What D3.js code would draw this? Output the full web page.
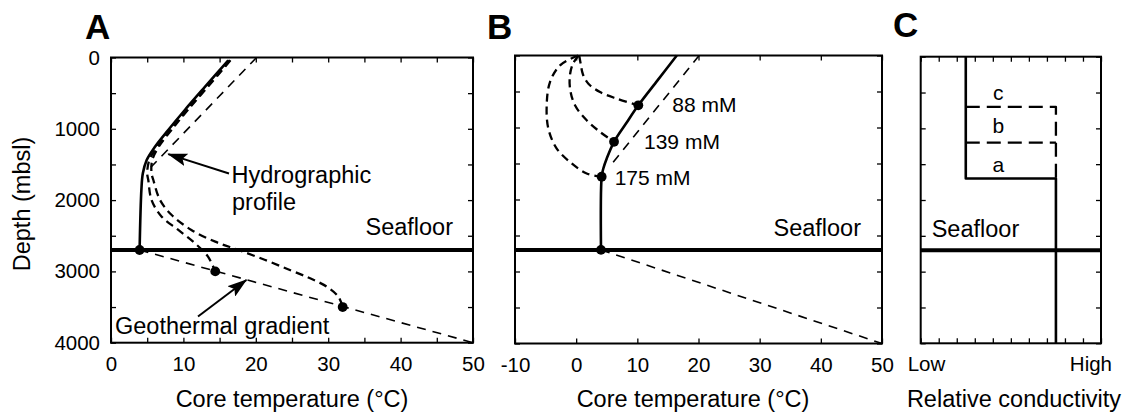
<!DOCTYPE html>
<html><head><meta charset="utf-8">
<script src="https://cdn.jsdelivr.net/npm/d3@7/dist/d3.min.js"></script>
<style>
body{margin:0;background:#fff}
svg text{font-family:"Liberation Sans",Arial,Helvetica,sans-serif;fill:#000}
</style>
</head><body>
<svg id="chart" width="1123" height="416"></svg>
<script>
// ---------------- DATA ----------------
const depthTickValues = [0,500,1000,1500,2000,2500,3000,3500,4000];
const depthLabelValues = [0,1000,2000,3000,4000];
const tempTickValuesA = [0,5,10,15,20,25,30,35,40,45,50];
const tempLabelValuesA = [0,10,20,30,40,50];
const tempTickValuesB = [-10,0,10,20,30,40,50];
const condTickValues = [0,0.1,0.2,0.3,0.4,0.5,0.6,0.7,0.8,0.9,1];
const condLabels = ["Low","High"];
const seafloorDepth = 2700;

// Panel A: [temperature °C, depth mbsl]
const solidA = [[16.2,40],[13.0,409],[10.2,736],[7.9,1017],[6.08,1251],[4.93,1437],[4.4,1625],[4.2,1850],[3.95,2700]];
const dashedA1 = [[16.4,40],[13.3,409],[10.5,736],[8.2,1017],[6.4,1251],[5.3,1437],[5.0,1625],[5.15,1718],[5.6,1999],[7.0,2232],[9.3,2419],[11.6,2606],[13.4,2793],[14.4,3000]];
const dashedA2 = [[16.5,40],[13.4,409],[10.6,736],[8.35,1017],[6.6,1251],[5.7,1437],[5.6,1625],[5.85,1718],[6.77,1999],[8.38,2209],[11.1,2419],[14.4,2583],[17.6,2700],[21.3,2840],[24.7,2980],[27.5,3097],[29.8,3214],[31.4,3354],[32.0,3500]];
const hydroLine = [[20.1,0],[5.5,1540]];
const geoLineA = [[3.95,2700],[50,4000]];
const dotsA = [[3.95,2700],[14.4,3000],[32.0,3500]];

// Panel B
const solidB = [[16.45,0],[13.3,346],[10.16,692],[8.15,945],[6.19,1199],[5.0,1430],[4.44,1569],[4.17,1684],[4.06,2700]];
const curveB88 = [[0.5,0],[0.75,120],[1.1,260],[2.0,392],[3.9,508],[6.63,600],[10.16,692]];
const curveB139 = [[0.4,0],[-0.5,110],[-1.0,260],[-1.0,461],[-0.19,692],[1.72,900],[3.9,1061],[6.19,1199]];
const curveB175 = [[0.3,0],[-2.64,138],[-4.28,369],[-4.82,692],[-4.55,1015],[-3.18,1292],[-0.73,1499],[1.72,1638],[4.17,1684]];
const geoLineB = [[4.06,2700],[50,4000]];
const dotsB = [[10.16,692],[6.19,1199],[4.17,1684],[4.06,2700]];
const concLabels = ["88 mM","139 mM","175 mM"];

// Panel C: [relative conductivity 0..1, depth]
const condSolid = [[0.25,0],[0.25,1700],[0.75,1700],[0.75,4000]];
const condDashed1 = [[0.25,700],[0.75,700],[0.75,1700]];
const condDashed2 = [[0.25,1200],[0.75,1200]];
const layerLabels = ["c","b","a"];
const layerLabelDepths = [604,1069,1605];

// ---------------- LAYOUT ----------------
const svg = d3.select("#chart");
const FS_TICK = 20.5, FS_LAB = 23.5, FS_NOTE = 21;

const xA = d3.scaleLinear().domain([0,50]).range([111,473]);
const yA = d3.scaleLinear().domain([0,4000]).range([57.5,342.7]);
const xB = d3.scaleLinear().domain([-10,50]).range([515,882]);
const yB = d3.scaleLinear().domain([0,4000]).range([55.5,343.5]);
const xC = d3.scaleLinear().domain([0,1]).range([920.7,1101]);
const yC = d3.scaleLinear().domain([0,4000]).range([56.7,343.3]);

const defs = svg.append("defs");
defs.append("marker").attr("id","arrow").attr("markerUnits","userSpaceOnUse")
  .attr("markerWidth",20).attr("markerHeight",13).attr("refX",19).attr("refY",6.5)
  .attr("orient","auto")
  .append("path").attr("d","M0,0 L20,6.5 L0,13 L4,6.5 Z").attr("fill","#000");

function frame(g, x, y, xTicks, xLabelFn, yTicks, yLabelFn){
  const [x0,x1] = x.range(), [y0,y1] = y.range();
  const bottom = d3.axisBottom(x).tickValues(xTicks).tickSizeInner(-5).tickSizeOuter(0).tickPadding(14).tickFormat(xLabelFn);
  const top = d3.axisTop(x).tickValues(xTicks).tickSizeInner(-5).tickSizeOuter(0).tickFormat("");
  const left = d3.axisLeft(y).tickValues(yTicks).tickSizeInner(-5).tickSizeOuter(0).tickPadding(11).tickFormat(yLabelFn);
  const right = d3.axisRight(y).tickValues(yTicks).tickSizeInner(-5).tickSizeOuter(0).tickFormat("");
  [[bottom,`translate(0,${y1})`],[top,`translate(0,${y0})`],[left,`translate(${x0},0)`],[right,`translate(${x1},0)`]].forEach(([ax,tr])=>{
    const a = g.append("g").attr("transform",tr).call(ax);
    a.select(".domain").remove();
    a.attr("font-family",null).attr("font-size",null);
    a.selectAll("line").attr("stroke","#000").attr("stroke-width",1.3);
    a.selectAll("text").style("font-size",FS_TICK+"px");
  });
  g.append("rect").attr("x",x0).attr("y",y0).attr("width",x1-x0).attr("height",y1-y0)
    .attr("fill","none").attr("stroke","#000").attr("stroke-width",2);
}

function path(g, data, x, y, opts){
  const line = d3.line().x(d=>x(d[0])).y(d=>y(d[1]));
  if (opts.curve) line.curve(d3.curveCatmullRom.alpha(0.5));
  return g.append("path").attr("d",line(data)).attr("fill","none").attr("stroke","#000")
    .attr("stroke-width",opts.w||2).attr("stroke-dasharray",opts.dash||null)
    .attr("stroke-linejoin","round");
}

function seafloor(g, x, y){
  g.append("line").attr("x1",x.range()[0]).attr("x2",x.range()[1])
    .attr("y1",y(seafloorDepth)).attr("y2",y(seafloorDepth))
    .attr("stroke","#000").attr("stroke-width",4);
}

// ---------------- PANEL A ----------------
const gA = svg.append("g");
path(gA, hydroLine, xA, yA, {w:1.6, dash:"9,7"});
path(gA, geoLineA, xA, yA, {w:1.6, dash:"9,7"});
path(gA, dashedA2, xA, yA, {w:2.3, dash:"8,5", curve:true});
path(gA, dashedA1, xA, yA, {w:2.3, dash:"8,5", curve:true});
path(gA, solidA, xA, yA, {w:2.6, curve:true});
seafloor(gA, xA, yA);
gA.selectAll(".dot").data(dotsA).join("circle").attr("cx",d=>xA(d[0])).attr("cy",d=>yA(d[1])).attr("r",4.9).attr("fill","#000");
frame(gA, xA, yA, tempTickValuesA, d=>tempLabelValuesA.includes(d)?d:"", depthTickValues, d=>depthLabelValues.includes(d)?d:"");

gA.append("text").attr("x",xA(50)-20).attr("y",yA(seafloorDepth)-15).attr("text-anchor","end").style("font-size",FS_LAB+"px").text("Seafloor");
gA.append("text").attr("x",231.5).attr("y",182.5).style("font-size",FS_LAB+"px").text("Hydrographic");
gA.append("text").attr("x",232).attr("y",210).style("font-size",FS_LAB+"px").text("profile");
gA.append("line").attr("x1",229).attr("y1",173.5).attr("x2",xA(7.9)).attr("y2",yA(1355))
  .attr("stroke","#000").attr("stroke-width",2).attr("marker-end","url(#arrow)");
gA.append("text").attr("x",115).attr("y",333.5).style("font-size",FS_LAB+"px").text("Geothermal gradient");
gA.append("line").attr("x1",198).attr("y1",316.5).attr("x2",xA(18.7)).attr("y2",yA(3120))
  .attr("stroke","#000").attr("stroke-width",2).attr("marker-end","url(#arrow)");
gA.append("text").attr("x",292).attr("y",407).attr("text-anchor","middle").style("font-size",FS_LAB+"px").text("Core temperature (°C)");
gA.append("text").attr("transform","translate(30,204) rotate(-90)").attr("text-anchor","middle").style("font-size",FS_LAB+"px").text("Depth (mbsl)");
gA.append("text").attr("x",85).attr("y",39).style("font-size","35px").style("font-weight","bold").text("A");

// ---------------- PANEL B ----------------
const gB = svg.append("g");
path(gB, hydroLine, xB, yB, {w:1.6, dash:"9,7"});
path(gB, geoLineB, xB, yB, {w:1.6, dash:"9,7"});
[curveB88, curveB139, curveB175].forEach(c=>path(gB, c, xB, yB, {w:2.3, dash:"8,5", curve:true}));
path(gB, solidB, xB, yB, {w:2.6, curve:true});
seafloor(gB, xB, yB);
gB.selectAll(".dot").data(dotsB).join("circle").attr("cx",d=>xB(d[0])).attr("cy",d=>yB(d[1])).attr("r",4.9).attr("fill","#000");
frame(gB, xB, yB, tempTickValuesB, d=>d, depthTickValues, ()=>"");
const concOffsets = [[34,7],[30,7],[13,8]];
concLabels.forEach((t,i)=>{
  gB.append("text").attr("x",xB(dotsB[i][0])+concOffsets[i][0]).attr("y",yB(dotsB[i][1])+concOffsets[i][1])
    .style("font-size",FS_NOTE+"px").text(t);
});
gB.append("text").attr("x",xB(50)-21).attr("y",yB(seafloorDepth)-13.5).attr("text-anchor","end").style("font-size",FS_LAB+"px").text("Seafloor");
gB.append("text").attr("x",693).attr("y",407).attr("text-anchor","middle").style("font-size",FS_LAB+"px").text("Core temperature (°C)");
gB.append("text").attr("x",487).attr("y",38.5).style("font-size","35px").style("font-weight","bold").text("B");

// ---------------- PANEL C ----------------
const gC = svg.append("g");
path(gC, condDashed1, xC, yC, {w:2.3, dash:"14,7"});
path(gC, condDashed2, xC, yC, {w:2.3, dash:"14,7"});
path(gC, condSolid, xC, yC, {w:2.6});
seafloor(gC, xC, yC);
frame(gC, xC, yC, condTickValues, ()=>"", depthTickValues, ()=>"");
layerLabels.forEach((t,i)=>{
  gC.append("text").attr("x",xC(0.43)).attr("y",yC(layerLabelDepths[i])).attr("text-anchor","middle")
    .style("font-size",FS_NOTE+"px").text(t);
});
gC.append("text").attr("x",xC(0)+11).attr("y",yC(seafloorDepth)-13.5).style("font-size",FS_LAB+"px").text("Seafloor");
gC.append("text").attr("x",xC(0)-13).attr("y",371).style("font-size",FS_TICK+"px").text(condLabels[0]);
gC.append("text").attr("x",xC(1)+11).attr("y",371).attr("text-anchor","end").style("font-size",FS_TICK+"px").text(condLabels[1]);
gC.append("text").attr("x",1014).attr("y",407).attr("text-anchor","middle").style("font-size",FS_LAB+"px").text("Relative conductivity");
gC.append("text").attr("x",893).attr("y",37).style("font-size","35px").style("font-weight","bold").text("C");
</script>
</body></html>
